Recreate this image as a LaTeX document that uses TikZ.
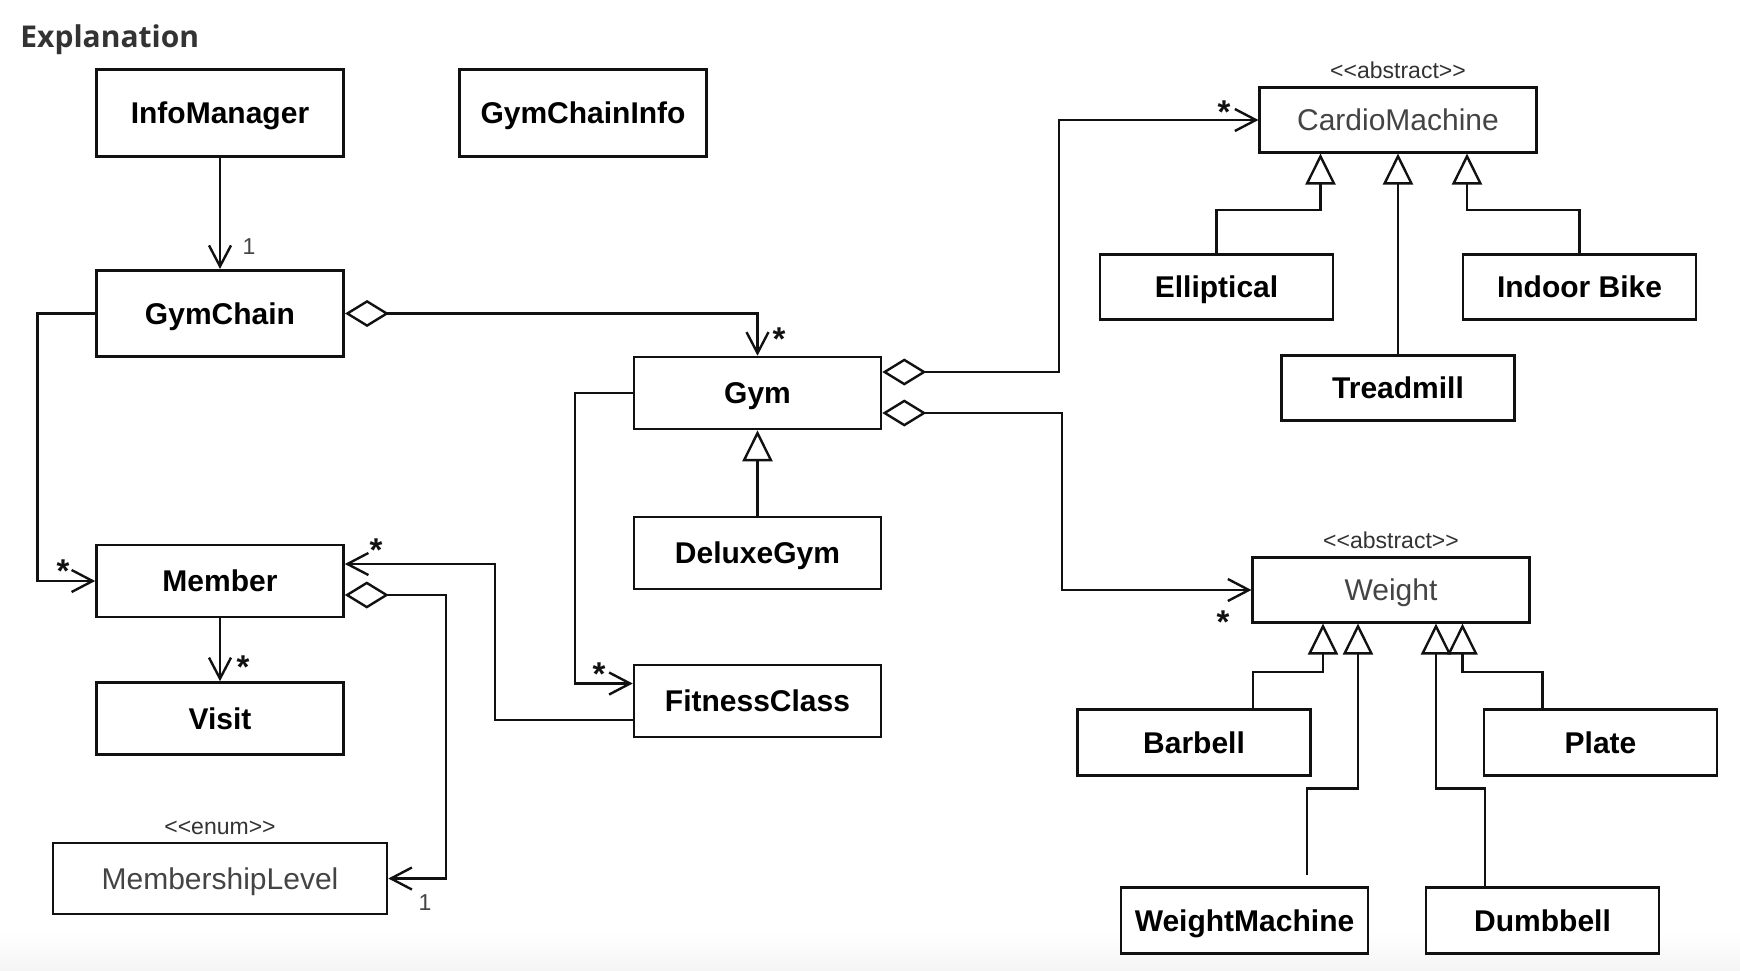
\documentclass[tikz,border=0pt]{standalone}
\usepackage{fontspec}
\newfontfamily\umlfont{Liberation Sans}
\newfontfamily\headfont{Open Sans}
\usetikzlibrary{arrows.meta,positioning}
\definecolor{ink}{HTML}{111111}
\definecolor{soft}{HTML}{444444}
\definecolor{heading}{HTML}{333333}

\begin{document}
\begin{tikzpicture}[x=0.5pt,y=-0.5pt,
  cls/.style={draw=ink,line width=1.3pt,fill=white,inner sep=0pt,
    font=\umlfont\bfseries\fontsize{15}{18}\selectfont,text height=10.8pt,text depth=0pt},
  plaincls/.style={cls,font=\umlfont\fontsize{15}{18}\selectfont,text=soft},
  tallbox/.style={minimum width=123.75pt,minimum height=43.25pt},
  midbox/.style={minimum width=123.5pt,minimum height=36pt},
  supbox/.style={minimum width=138.25pt,minimum height=32.25pt},
  subbox/.style={minimum width=116.5pt,minimum height=32.75pt},
  stereo/.style={inner sep=0pt,font=\umlfont\fontsize{11.5}{13}\selectfont,text=heading},
  multlabel/.style={inner sep=0pt,font=\umlfont\bfseries\fontsize{16.5}{18}\selectfont,text=ink},
  onelabel/.style={inner sep=0pt,font=\umlfont\fontsize{11.5}{13}\selectfont,text=soft},
  conn/.style={draw=ink,line width=1.2pt},
  assoc/.style={conn,-{Straight Barb[length=10.5pt,width=11pt]}},
  aggr/.style={conn,{Diamond[open,length=22pt,width=13.5pt]}-{Straight Barb[length=10.5pt,width=11pt]}},
  inherit/.style={conn,-{Triangle[open,length=15.5pt,width=15pt]}}]

  \fill[white] (0,0) rectangle (1740,970);
  \useasboundingbox (0,0) rectangle (1740,970);
  \shade[top color=white,bottom color=black!4] (0,932) rectangle (1740,970);

  \node[anchor=base west,inner sep=0pt,text=heading,
    font=\headfont\bfseries\fontsize{15}{18}\selectfont] (title) at (20,47) {Explanation};

  % classes
  \node[cls,tallbox] (InfoManager) at (220,113) {InfoManager};
  \node[cls,tallbox] (GymChainInfo) at (583,113) {GymChainInfo};
  \node[cls,tallbox] (GymChain) at (220,313.5) {GymChain};
  \node[cls,midbox] (Gym) at (757.5,393) {Gym};
  \node[cls,midbox] (DeluxeGym) at (757.5,553) {DeluxeGym};
  \node[cls,midbox] (FitnessClass) at (757.5,701) {FitnessClass};
  \node[cls,midbox] (Member) at (220,581) {Member};
  \node[cls,midbox] (Visit) at (220,718.5) {Visit};
  \node[plaincls,minimum width=167pt,minimum height=35.5pt] (MembershipLevel) at (220,878.5) {MembershipLevel};
  \node[plaincls,supbox] (CardioMachine) at (1398,120) {CardioMachine};
  \node[plaincls,supbox] (Weight) at (1391,590) {Weight};
  \node[cls,subbox] (Elliptical) at (1216.5,287) {Elliptical};
  \node[cls,subbox] (IndoorBike) at (1579.5,287) {Indoor Bike};
  \node[cls,subbox] (Treadmill) at (1398,388) {Treadmill};
  \node[cls,subbox] (Barbell) at (1194,742.5) {Barbell};
  \node[cls,subbox] (Plate) at (1600.5,742.5) {Plate};
  \node[cls,subbox,minimum width=123.5pt] (WeightMachine) at (1244.5,920.5) {WeightMachine};
  \node[cls,subbox] (Dumbbell) at (1542.5,920.5) {Dumbbell};

  % stereotypes
  \node[stereo,above=3.5pt of CardioMachine] (CardioTag) {<<abstract>>};
  \node[stereo,above=3.5pt of Weight] (WeightTag) {<<abstract>>};
  \node[stereo,above=3.5pt of MembershipLevel] (LevelTag) {<<enum>>};

  % associations
  \draw[assoc] (InfoManager.south) -- (GymChain.north);
  \draw[assoc] (GymChain.west) -- ++(-57.5,0) |- (Member.west);
  \draw[aggr] (GymChain.east) -| (Gym.north);
  \draw[assoc] (Gym.west) -- ++(-58,0) |- ([yshift=8.75pt]FitnessClass.west);
  \draw[aggr] ([yshift=10.5pt]Gym.east) -- ++(176.5,0) |- (CardioMachine.west);
  \draw[aggr] ([yshift=-10pt]Gym.east) -- ++(179.5,0) |- (Weight.west);
  \draw[assoc] ([yshift=-9.5pt]FitnessClass.west) -- ++(-138,0) |- ([yshift=8.5pt]Member.east);
  \draw[aggr] ([yshift=-7pt]Member.east) -- ++(101,0) |- (MembershipLevel.east);
  \draw[assoc] (Member.south) -- (Visit.north);

  % generalisations
  \draw[inherit] (DeluxeGym.north) -- (Gym.south);
  \draw[inherit] (Elliptical.north) -- ++(0,-43) -| ([xshift=-38.75pt]CardioMachine.south);
  \draw[inherit] (Treadmill.north) -- (CardioMachine.south);
  \draw[inherit] (IndoorBike.north) -- ++(0,-43) -| ([xshift=34.5pt]CardioMachine.south);
  \draw[inherit] ([xshift=29.5pt]Barbell.north) -- ++(0,-36.5) -| ([xshift=-34pt]Weight.south);
  \draw[inherit] ([xshift=31.25pt,yshift=5.5pt]WeightMachine.north) -- ++(0,-87) -| ([xshift=-16.5pt]Weight.south);
  \draw[inherit] ([xshift=-28.75pt]Dumbbell.north) -- ++(0,-98) -| ([xshift=22.5pt]Weight.south);
  \draw[inherit] ([xshift=-29pt]Plate.north) -- ++(0,-36.5) -| ([xshift=35.75pt]Weight.south);

  % multiplicities
  \node[onelabel] (mInfoChain) at (249,247) {1};
  \node[multlabel] (mChainMember) at (63,571) {*};
  \node[multlabel] (mChainGym) at (779,339.5) {*};
  \node[multlabel] (mGymClass) at (599,674) {*};
  \node[multlabel] (mGymCardio) at (1224,112) {*};
  \node[multlabel] (mGymWeight) at (1223,622) {*};
  \node[multlabel] (mClassMember) at (376,550) {*};
  \node[onelabel] (mMemberLevel) at (425,903) {1};
  \node[multlabel] (mMemberVisit) at (243,667) {*};
\end{tikzpicture}
\end{document}
